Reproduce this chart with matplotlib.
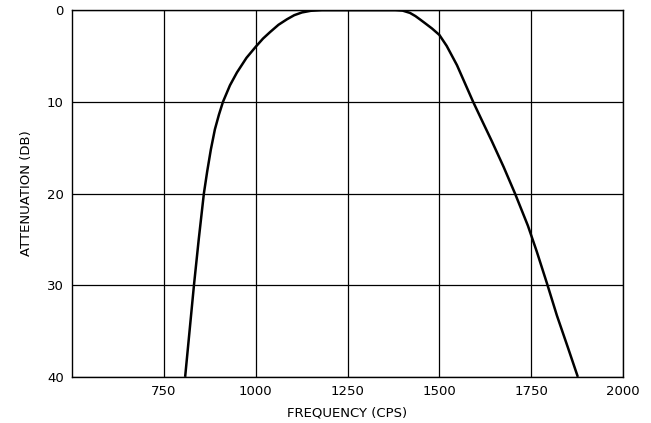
import matplotlib
matplotlib.use('Agg')
import matplotlib.pyplot as plt

# filter response
freq = [808, 820, 832, 845, 859, 868, 878, 889, 900, 911, 930, 949, 975,
        1000, 1020, 1039, 1062, 1085, 1105, 1126, 1150, 1180, 1300, 1380,
        1400, 1420, 1435, 1447, 1462, 1480, 1500, 1520, 1548, 1570, 1592,
        1618, 1643, 1675, 1706, 1741, 1765, 1793, 1820, 1850, 1877]
atten = [40, 35, 30, 25, 20, 17.6, 15.2, 13.0, 11.4, 10, 8.2, 6.8, 5.2,
         4.0, 3.1, 2.4, 1.6, 1.0, 0.55, 0.25, 0.07, 0, 0, 0,
         0.05, 0.3, 0.65, 1.0, 1.45, 2.0, 2.7, 3.9, 6.0, 8.0, 10,
         12.2, 14.3, 17.1, 20, 23.5, 26.3, 29.8, 33.3, 36.8, 40]

xticks = [750, 1000, 1250, 1500, 1750, 2000]
yticks = [0, 10, 20, 30, 40]

font = {'family': 'DejaVu Sans', 'weight': 'normal', 'size': 9.5}
matplotlib.rc('font', **font)

fig = plt.figure(figsize=(6.51, 4.23), dpi=100)
ax = fig.add_axes([0.1106, 0.109, 0.8464, 0.867])

ax.plot(freq, atten, color='black', lw=1.8, solid_capstyle='butt',
        solid_joinstyle='round')

ax.set_xlim(500, 2000)
ax.set_ylim(40, 0)
ax.set_xticks(xticks)
ax.set_yticks(yticks)
ax.grid(True, color='black', lw=0.9)
ax.tick_params(length=0, pad=6)
for s in ax.spines.values():
    s.set_color('black')
    s.set_linewidth(1.0)

ax.set_xlabel('FREQUENCY (CPS)', labelpad=6)
ax.set_ylabel('ATTENUATION (DB)', labelpad=10)

fig.savefig('out.png', dpi=100)
